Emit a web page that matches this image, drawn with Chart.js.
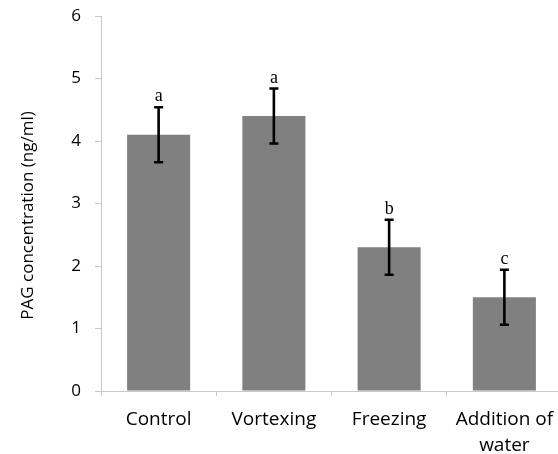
<!DOCTYPE html>
<html>
<head>
<meta charset="utf-8">
<script src="https://cdn.jsdelivr.net/npm/chart.js@4"></script>
<style>
html,body{margin:0;padding:0;background:#fff;overflow:hidden;width:558px;height:454px;}
#wrap{width:562px;height:454px;}
</style>
</head>
<body>
<div id="wrap"><canvas id="c" width="562" height="454"></canvas></div>
<script>
const categories = [['Control'], ['Vortexing'], ['Freezing'], ['Addition of', 'water']];
const means = [4.1, 4.4, 2.3, 1.5];
const errors = [0.44, 0.44, 0.44, 0.44];
const letters = ['a', 'a', 'b', 'c'];
const yTicks = [0, 1, 2, 3, 4, 5, 6];
const yTitle = 'PAG concentration (ng/ml)';

const errPlugin = {
  id: 'errbars',
  afterDatasetsDraw(chart) {
    const ctx = chart.ctx;
    const meta = chart.getDatasetMeta(0);
    const y = chart.scales.y;
    ctx.save();
    ctx.strokeStyle = '#000';
    ctx.lineWidth = 2.6;
    ctx.lineCap = 'butt';
    meta.data.forEach((bar, i) => {
      const x = bar.x;
      const top = y.getPixelForValue(means[i] + errors[i]);
      const bot = y.getPixelForValue(means[i] - errors[i]);
      ctx.beginPath();
      ctx.moveTo(x, top); ctx.lineTo(x, bot);
      ctx.moveTo(x - 4.5, top); ctx.lineTo(x + 4.5, top);
      ctx.moveTo(x - 4.5, bot); ctx.lineTo(x + 4.5, bot);
      ctx.stroke();
      ctx.fillStyle = '#000';
      ctx.font = '18px "Liberation Serif", "Times New Roman", serif';
      ctx.textAlign = 'center';
      ctx.textBaseline = 'alphabetic';
      ctx.fillText(letters[i], x, top - 6);
    });
    // y-axis title
    const ca = chart.chartArea;
    ctx.translate(28, (ca.top + ca.bottom) / 2 + 12);
    ctx.rotate(-Math.PI / 2);
    ctx.font = '17px "Open Sans", sans-serif';
    ctx.textAlign = 'center';
    ctx.textBaseline = 'middle';
    ctx.fillText(yTitle, 0, 0);
    ctx.restore();
  }
};

new Chart(document.getElementById('c'), {
  type: 'bar',
  data: {
    labels: categories,
    datasets: [{
      data: means,
      backgroundColor: '#808080',
      borderWidth: 0,
      barPercentage: 0.547,
      categoryPercentage: 1.0
    }]
  },
  options: {
    responsive: false,
    animation: false,
    events: [],
    layout: { padding: { top: 16, left: 0, right: 0, bottom: 0 } },
    plugins: { legend: { display: false }, tooltip: { enabled: false } },
    scales: {
      x: {
        grid: { display: true, drawOnChartArea: false, drawTicks: true, tickLength: 5, color: '#c8c8c8', offset: true },
        border: { display: true, color: '#c8c8c8', width: 1 },
        ticks: { color: '#000', font: { family: '"Open Sans", sans-serif', size: 19, lineHeight: 1.4 }, padding: 10, maxRotation: 0, autoSkip: false },
        afterFit(s) { s.height = 63; s.paddingLeft = 0; s.paddingRight = 0; }
      },
      y: {
        min: 0, max: 6,
        afterBuildTicks(s) { s.ticks = yTicks.map(v => ({ value: v })); },
        grid: { display: true, drawOnChartArea: false, drawTicks: true, tickLength: 6, color: '#c8c8c8' },
        border: { display: true, color: '#c8c8c8', width: 1 },
        ticks: { color: '#000', font: { family: '"Open Sans", sans-serif', size: 17 }, padding: 14 },
        title: { display: false },
        afterFit(s) { s.width = 101; s.paddingTop = 0; s.paddingBottom = 0; }
      }
    }
  },
  plugins: [errPlugin]
});
</script>
</body>
</html>
